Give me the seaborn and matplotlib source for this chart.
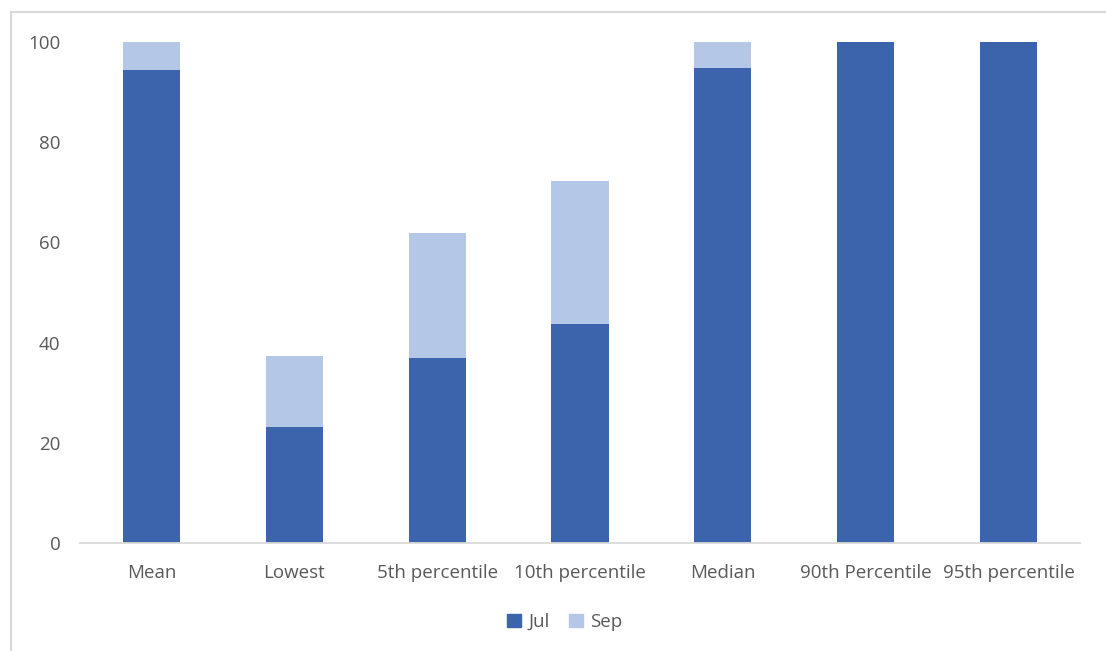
import matplotlib
matplotlib.use("Agg")
import matplotlib.pyplot as plt
import matplotlib.patches as mpatches
from matplotlib.lines import Line2D
import seaborn as sns
import pandas as pd

categories = ["Mean", "Lowest", "5th percentile", "10th percentile",
              "Median", "90th Percentile", "95th percentile"]
jul = [94.4, 23.1, 36.9, 43.7, 94.8, 100.0, 100.0]
sep = [5.6, 14.2, 25.0, 28.6, 5.2, 0.0, 0.0]

JUL_COLOR = "#3C64AD"
SEP_COLOR = "#B4C7E7"
TEXT_COLOR = "#595959"
LINE_COLOR = "#D9D9D9"

df = pd.DataFrame({"category": categories, "Jul": jul, "Sep": sep})
df["total"] = df["Jul"] + df["Sep"]

sns.set_theme(style="white")
plt.rcParams["font.family"] = ["Open Sans", "DejaVu Sans"]

fig = plt.figure(figsize=(11.06, 6.51), dpi=100)
W, H = 1106, 651
ax = fig.add_axes([80 / W, 1 - 543 / H, 1000 / W, (543 - 42) / H])

# Stacked bars: full height in Sep colour, Jul portion drawn on top
sns.barplot(data=df, x="category", y="total", color=SEP_COLOR, width=0.4,
            saturation=1, ax=ax, linewidth=0)
sns.barplot(data=df, x="category", y="Jul", color=JUL_COLOR, width=0.4,
            saturation=1, ax=ax, linewidth=0)

ax.set_ylim(0, 100)
ax.set_xlim(-0.5, len(categories) - 0.5)
ax.set_yticks([0, 20, 40, 60, 80, 100])
ax.set_xlabel("")
ax.set_ylabel("")
for s in ["top", "right", "left"]:
    ax.spines[s].set_visible(False)
ax.spines["bottom"].set_color(LINE_COLOR)
ax.spines["bottom"].set_linewidth(1.3)
ax.tick_params(axis="y", length=0, pad=14, labelsize=13.5, labelcolor=TEXT_COLOR)
ax.tick_params(axis="x", length=0, pad=15, labelsize=13.5, labelcolor=TEXT_COLOR)

handles = [mpatches.Patch(color=JUL_COLOR, label="Jul"),
           mpatches.Patch(color=SEP_COLOR, label="Sep")]
fig.legend(handles=handles, loc="center", bbox_to_anchor=(565 / W, 1 - 622 / H),
           ncol=2, frameon=False, fontsize=13.5, handlelength=0.75,
           handleheight=0.75, handletextpad=0.4, columnspacing=1.0,
           labelcolor=TEXT_COLOR)

# Outer chart frame
fig.add_artist(Line2D([11 / W, 11 / W], [0, 1 - 12 / H], transform=fig.transFigure,
                      color=LINE_COLOR, linewidth=1.5))
fig.add_artist(Line2D([11 / W, 1], [1 - 12 / H, 1 - 12 / H], transform=fig.transFigure,
                      color=LINE_COLOR, linewidth=1.5))

fig.savefig("out.png", dpi=100, facecolor="white")
